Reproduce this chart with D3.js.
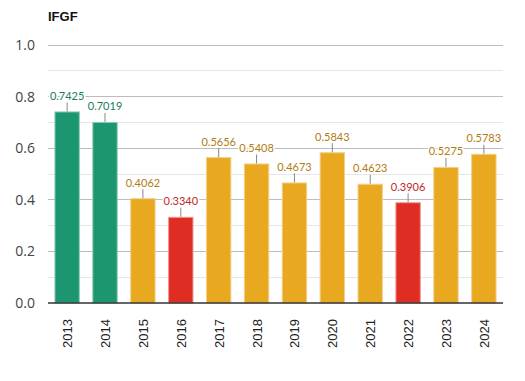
<!DOCTYPE html>
<html><head><meta charset="utf-8">
<script src="https://cdn.jsdelivr.net/npm/d3@7"></script>
<style>body{margin:0;background:#fff}</style>
</head><body><svg id="c" width="525" height="381"></svg>
<script>
const years = ["2013","2014","2015","2016","2017","2018","2019","2020","2021","2022","2023","2024"];
const values = [0.7425,0.7019,0.4062,0.3340,0.5656,0.5408,0.4673,0.5843,0.4623,0.3906,0.5275,0.5783];
const levels = ["g","g","o","r","o","o","o","o","o","r","o","o"];
const yTicks = [0,0.2,0.4,0.6,0.8,1.0];
const minorTicks = [0.1,0.3,0.5,0.7,0.9];
const fillC = {g:"#1b9670",o:"#e8a820",r:"#e02d24"};
const strokeC = {g:"#8fcbb6",o:"#f3d08a",r:"#ef9590"};
const textC = {g:"#1a7a5e",o:"#b07c10",r:"#c0281f"};

const svg = d3.select("#c");
const m = {l:48,r:22,t:45,b:78};
const W = 525, H = 381;
const x = d3.scaleBand().domain(years).range([m.l, W-m.r]).paddingInner(0.33).paddingOuter(0.17);
const y = d3.scaleLinear().domain([0,1]).range([H-m.b, m.t]);

svg.append("text").attr("x",48).attr("y",21).text("IFGF")
  .attr("font-family","Liberation Sans, Arial").attr("font-weight","bold").attr("font-size",13).attr("fill","#111");

svg.append("g").selectAll("line").data(minorTicks).join("line")
  .attr("x1",m.l).attr("x2",W-m.r).attr("y1",d=>y(d)).attr("y2",d=>y(d))
  .attr("stroke","#e6e6e6").attr("stroke-width",1).attr("shape-rendering","crispEdges");
svg.append("g").selectAll("line").data(yTicks.slice(1)).join("line")
  .attr("x1",m.l).attr("x2",W-m.r).attr("y1",d=>y(d)).attr("y2",d=>y(d))
  .attr("stroke","#bdbdbd").attr("stroke-width",1).attr("shape-rendering","crispEdges");

svg.append("g").selectAll("text").data(yTicks).join("text")
  .attr("x",35).attr("y",d=>y(d)).attr("dy","0.35em").attr("text-anchor","end")
  .attr("font-family","Open Sans").attr("font-size",14).attr("fill","#444")
  .text(d=>d.toFixed(1));

const bars = svg.append("g").selectAll("g").data(years).join("g");
bars.append("rect")
  .attr("x",d=>x(d)+0.5).attr("width",x.bandwidth()-1)
  .attr("y",(d,i)=>y(values[i])+0.5).attr("height",(d,i)=>y(0)-y(values[i])-0.5)
  .attr("fill",(d,i)=>fillC[levels[i]]).attr("stroke",(d,i)=>strokeC[levels[i]]).attr("stroke-width",1);
bars.append("line")
  .attr("x1",d=>x(d)+x.bandwidth()/2).attr("x2",d=>x(d)+x.bandwidth()/2)
  .attr("y1",(d,i)=>y(values[i])).attr("y2",(d,i)=>y(values[i])-9)
  .attr("stroke","#888").attr("stroke-width",1);
bars.append("text")
  .attr("x",d=>x(d)+x.bandwidth()/2).attr("y",(d,i)=>y(values[i])-11.5)
  .attr("text-anchor","middle").attr("font-family","Lato").attr("font-size",11)
  .attr("fill",(d,i)=>textC[levels[i]])
  .attr("stroke","#fff").attr("stroke-width",3).attr("paint-order","stroke")
  .text((d,i)=>values[i].toFixed(4));

svg.append("line").attr("x1",m.l).attr("x2",W-m.r).attr("y1",y(0)).attr("y2",y(0))
  .attr("stroke","#333").attr("stroke-width",1.5);

svg.append("g").selectAll("text").data(years).join("text")
  .attr("transform",d=>`translate(${x(d)+x.bandwidth()/2+5},${y(0)+16}) rotate(-90)`)
  .attr("text-anchor","end").attr("font-family","Liberation Sans, Arial").attr("font-size",13).attr("fill","#222")
  .text(d=>d);
</script></body></html>
